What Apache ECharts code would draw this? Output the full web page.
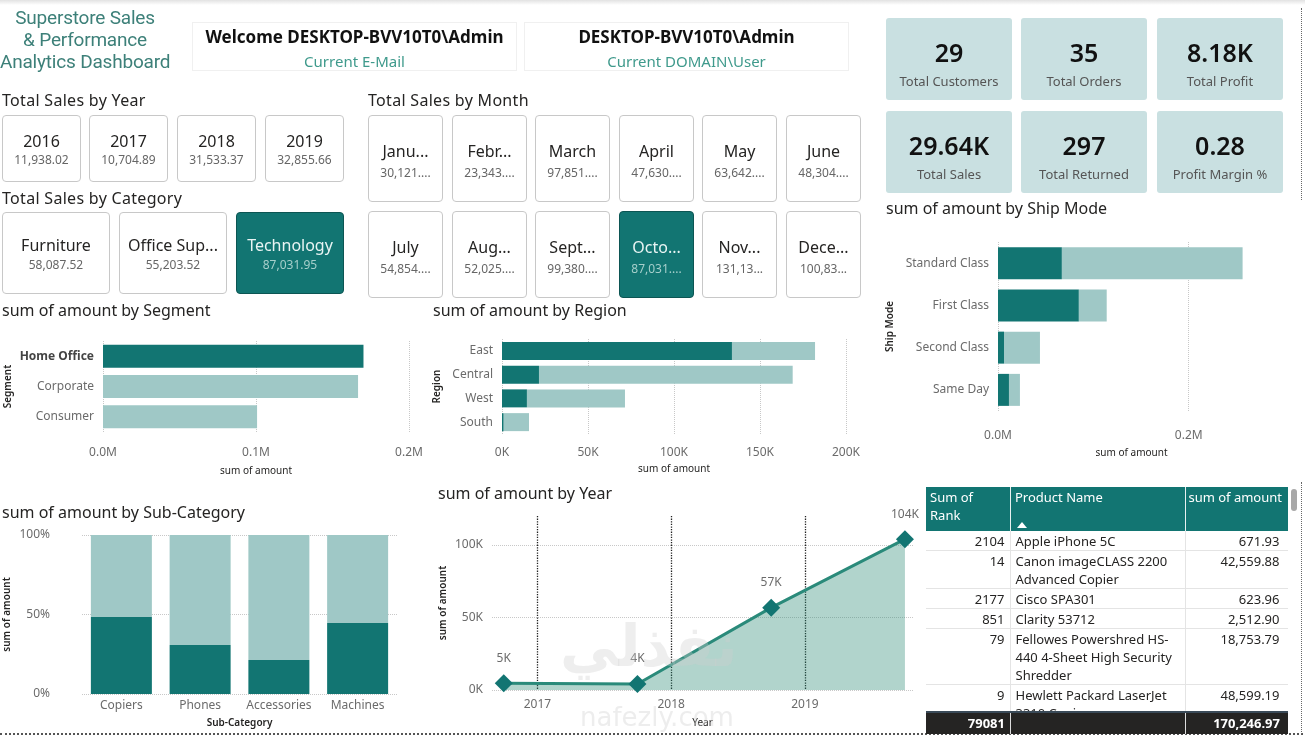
<!DOCTYPE html>
<html>
<head>
<meta charset="utf-8">
<script src="https://cdn.jsdelivr.net/npm/echarts@6/dist/echarts.min.js"></script>
<style>
  body { margin: 0; background: #fff; font-family: "Noto Sans", sans-serif; }
  #page { position: relative; width: 1305px; height: 737px; overflow: hidden; background: #fff; }
  #main { position: absolute; left: 0; top: 0; width: 1305px; height: 737px; }
  .card { position: absolute; box-sizing: border-box; border: 1px solid #c8c8c8; border-radius: 4px; background: #fff; }
  .card span, .kpi span { position: absolute; left: 0; right: 0; text-align: center; white-space: nowrap; }
  .kpi { position: absolute; background: #c9e0e1; border-radius: 3px; }
  #tbl { position: absolute; left: 926px; top: 487px; width: 362px; font-size: 13px; }
  #tbl table { border-collapse: collapse; table-layout: fixed; width: 362px; }
  #tbl td { line-height: 18px; padding: 1px 5px 0 5px; vertical-align: top; color: #252423; border-bottom: 1px solid #e4e4e4; border-right: 1px solid #e4e4e4; }
</style>
</head>
<body>
<div id="page">
  <div id="main"></div>
</div>
<script>
// slicer cards
var years = ['2016', '2017', '2018', '2019'];
var yearSales = ['11,938.02', '10,704.89', '31,533.37', '32,855.66'];
var categories = ['Furniture', 'Office Sup...', 'Technology'];
var categorySales = ['58,087.52', '55,203.52', '87,031.95'];
var months = ['Janu...', 'Febr...', 'March', 'April', 'May', 'June', 'July', 'Aug...', 'Sept...', 'Octo...', 'Nov...', 'Dece...'];
var monthSales = ['30,121....', '23,343....', '97,851....', '47,630....', '63,642....', '48,304....', '54,854....', '52,025....', '99,380....', '87,031....', '131,13...', '100,83...'];
var selectedCategory = 'Technology';
var selectedMonth = 'Octo...';

// kpi cards
var kpiValues = ['29', '35', '8.18K', '29.64K', '297', '0.28'];
var kpiLabels = ['Total Customers', 'Total Orders', 'Total Profit', 'Total Sales', 'Total Returned', 'Profit Margin %'];

// bar charts: highlighted part (dark) and total
var segments = ['Home Office', 'Corporate', 'Consumer'];
var segmentHighlighted = [170247, 0, 0];
var segmentTotal = [170247, 166700, 100700];

var regions = ['East', 'Central', 'West', 'South'];
var regionHighlighted = [133700, 21500, 14500, 1000];
var regionTotal = [182000, 169000, 71500, 15700];

var shipModes = ['Standard Class', 'First Class', 'Second Class', 'Same Day'];
var shipHighlighted = [67000, 84800, 6300, 11500];
var shipTotal = [256500, 114000, 44000, 23000];

var subCategories = ['Copiers', 'Phones', 'Accessories', 'Machines'];
var subCatHighlightedPct = [48.4, 30.8, 21.4, 44.7];

// line chart
var yearDates = ['2016-10-01', '2017-10-01', '2018-10-01', '2019-10-01'];
var yearAmounts = [4700, 4100, 56800, 104000];

// table
var tableRanks = [2104, 14, 2177, 851, 79, 9];
var tableProducts = ['Apple iPhone 5C', 'Canon imageCLASS 2200 Advanced Copier', 'Cisco SPA301', 'Clarity 53712',
  'Fellowes Powershred HS-440 4-Sheet High Security Shredder', 'Hewlett Packard LaserJet 3310 Copier'];
var tableAmounts = ['671.93', '42,559.88', '623.96', '2,512.90', '18,753.79', '48,599.19'];
var tableTotals = ['79081', '170,246.97'];

var dark = '#127572';
var light = '#9fc8c6';
var page = document.getElementById('page');

function addDiv(html, css, cls) {
  var d = document.createElement('div');
  if (cls) d.className = cls;
  d.style.cssText = css;
  d.innerHTML = html;
  page.appendChild(d);
  return d;
}

// top shadow + dotted frame lines
addDiv('', 'position:absolute;left:0;top:0;width:1305px;height:5px;background:linear-gradient(#e2e2e2,#fff);');
addDiv('', 'position:absolute;left:0;top:733px;width:1303px;height:0;border-top:2px dotted #555;');
addDiv('', 'position:absolute;left:1301px;top:8px;width:0;height:192px;border-left:1px dotted #666;');
addDiv('', 'position:absolute;left:1301px;top:482px;width:0;height:252px;border-left:1px dotted #666;');

// dashboard title
addDiv('Superstore Sales<br>&amp; Performance<br>Analytics Dashboard',
  'position:absolute;left:0;top:7px;width:170px;text-align:center;white-space:nowrap;font-family:Roboto,sans-serif;font-size:19px;letter-spacing:-0.2px;line-height:22px;color:#3d8079;');

// user boxes
function userBox(x, main, sub) {
  addDiv('<div style="position:absolute;left:0;right:0;top:2px;font-weight:700;font-size:17px;color:#111;">' + main + '</div>' +
    '<div style="position:absolute;left:0;right:0;top:28px;font-size:15px;color:#3f9a8c;">' + sub + '</div>',
    'position:absolute;left:' + x + 'px;top:22px;width:325px;height:49px;box-sizing:border-box;border:1px solid #f0f0f0;text-align:center;white-space:nowrap;');
}
userBox(192, 'Welcome DESKTOP-BVV10T0\\Admin', 'Current E-Mail');
userBox(524, 'DESKTOP-BVV10T0\\Admin', 'Current DOMAIN\\User');

// kpi cards
var kpiX = [886, 1021, 1157], kpiY = [18, 111];
kpiValues.forEach(function (v, i) {
  var x = kpiX[i % 3], y = kpiY[Math.floor(i / 3)];
  addDiv('<span style="top:17px;font-size:25px;font-weight:600;color:#111;line-height:34px;">' + v + '</span>' +
    '<span style="top:54px;font-size:13px;color:#555;line-height:18px;">' + kpiLabels[i] + '</span>',
    'left:' + x + 'px;top:' + y + 'px;width:126px;height:82px;', 'kpi');
});

// section headings
addDiv('Total Sales by Year', 'position:absolute;left:2px;top:89px;font-size:16px;color:#252423;letter-spacing:0.3px;');
addDiv('Total Sales by Category', 'position:absolute;left:2px;top:187px;font-size:16px;color:#252423;letter-spacing:0.3px;');
addDiv('Total Sales by Month', 'position:absolute;left:368px;top:89px;font-size:16px;color:#252423;letter-spacing:0.3px;');

function slicerCard(x, y, w, h, label, value, c1, c2, selected) {
  addDiv('<span style="top:' + (c1 - 11) + 'px;line-height:22px;font-size:16px;color:' + (selected ? '#e8f4f3' : '#252423') + ';">' + label + '</span>' +
    '<span style="top:' + (c2 - 8) + 'px;line-height:16px;font-size:12px;color:' + (selected ? '#a6cfcb' : '#666') + ';">' + value + '</span>',
    'left:' + x + 'px;top:' + y + 'px;width:' + w + 'px;height:' + h + 'px;' +
    (selected ? 'background:' + dark + ';border-color:#0c5553;' : ''), 'card');
}
var yearX = [2, 89, 177, 265];
years.forEach(function (y, i) { slicerCard(yearX[i], 115, 79, 67, y, yearSales[i], 25, 44, false); });
var catX = [2, 119, 236];
categories.forEach(function (c, i) { slicerCard(catX[i], 212, 108, 82, c, categorySales[i], 32, 52, c === selectedCategory); });
var monthX = [368, 452, 535, 619, 702, 786], monthY = [115, 211];
months.forEach(function (m, i) {
  slicerCard(monthX[i % 6], monthY[Math.floor(i / 6)], 75, 87, m, monthSales[i], 35, 57, m === selectedMonth);
});

// table
(function () {
  var head = '<div style="position:relative;height:44px;background:' + dark + ';color:#fff;font-size:13px;line-height:18px;">' +
    '<div style="position:absolute;left:4px;top:1px;width:60px;">Sum of Rank</div>' +
    '<div style="position:absolute;left:84px;top:0;width:0;height:44px;border-left:1px solid #e8f0f0;"></div>' +
    '<div style="position:absolute;left:89px;top:1px;">Product Name</div>' +
    '<div style="position:absolute;left:91px;top:35px;width:0;height:0;border-left:5px solid transparent;border-right:5px solid transparent;border-bottom:6px solid #fff;"></div>' +
    '<div style="position:absolute;left:259px;top:0;width:0;height:44px;border-left:1px solid #e8f0f0;"></div>' +
    '<div style="position:absolute;right:6px;top:1px;">sum of amount</div></div>';
  var rows = '<div style="height:180px;overflow:hidden;"><table><colgroup><col style="width:84px"><col style="width:175px"><col style="width:103px"></colgroup>';
  tableRanks.forEach(function (r, i) {
    rows += '<tr><td style="text-align:right;">' + r + '</td><td>' + tableProducts[i] + '</td><td style="text-align:right;padding-right:8px;">' + tableAmounts[i] + '</td></tr>';
  });
  rows += '</table></div>';
  var foot = '<div style="position:relative;height:21px;background:#252423;border-top:2px solid #3a4a58;color:#fff;font-weight:700;font-size:13px;line-height:20px;">' +
    '<div style="position:absolute;left:0;width:79px;text-align:right;">' + tableTotals[0] + '</div>' +
    '<div style="position:absolute;left:84px;top:0;height:21px;border-left:1px solid #ddd;"></div>' +
    '<div style="position:absolute;left:259px;top:0;height:21px;border-left:1px solid #ddd;"></div>' +
    '<div style="position:absolute;right:8px;">' + tableTotals[1] + '</div></div>';
  var t = addDiv(head + rows + foot, '');
  t.id = 'tbl';
  addDiv('', 'position:absolute;left:1291px;top:489px;width:6px;height:22px;border-radius:3px;background:#a8a8a8;');
})();

// watermark
addDiv('نفذلي', 'position:absolute;left:560px;top:612px;font-family:"DejaVu Sans",sans-serif;font-weight:700;font-size:58px;color:rgba(205,205,205,0.35);');
addDiv('nafezly.com', 'position:absolute;left:580px;top:702px;font-family:"DejaVu Sans",sans-serif;font-size:26px;color:rgba(210,210,210,0.4);');

// charts
var myChart = echarts.init(document.getElementById('main'));
var labelStyle = { color: '#6b6b6b', fontSize: 12, fontFamily: 'Noto Sans' };
var nameStyle = { color: '#252423', fontSize: 10, fontFamily: 'Noto Sans' };
var dotted = { color: '#c8c8c8', type: 'dotted', width: 1 };
var titleStyle = { fontSize: 16, fontWeight: 'normal', color: '#252423', fontFamily: 'Noto Sans' };

function mFmt(v) { return (v / 1e6).toFixed(1) + 'M'; }
function kFmt(v) { return (v / 1000) + 'K'; }
function rest(total, hi) { return total.map(function (t, i) { return +(t - hi[i]).toFixed(1); }); }

function valueX(idx, max, interval, fmt, margin, nameGap, hideMax) {
  return {
    type: 'value', gridIndex: idx, min: 0, max: max, interval: interval,
    name: 'sum of amount', nameLocation: 'middle', nameGap: nameGap, nameTextStyle: nameStyle,
    axisLine: { show: false }, axisTick: { show: false },
    axisLabel: Object.assign({ formatter: fmt, margin: margin, showMaxLabel: !hideMax }, labelStyle),
    splitLine: { show: true, lineStyle: dotted, showMaxLine: !hideMax }
  };
}
function catY(idx, data, name, nameGap, fmt) {
  return {
    type: 'category', gridIndex: idx, data: data, inverse: true,
    name: name, nameLocation: 'middle', nameGap: nameGap, nameTextStyle: Object.assign({ fontWeight: 600 }, nameStyle),
    axisLine: { show: false }, axisTick: { show: false },
    axisLabel: Object.assign({ margin: 9, interval: 0, formatter: fmt, rich: { b: { fontWeight: 700, color: '#444', fontSize: 12 } } }, labelStyle)
  };
}

var option = {
  animation: false,
  title: [
    { text: 'sum of amount by Segment', left: 2, top: 303, padding: 0, textStyle: titleStyle },
    { text: 'sum of amount by Region', left: 433, top: 303, padding: 0, textStyle: titleStyle },
    { text: 'sum of amount by Ship Mode', left: 886, top: 201, padding: 0, textStyle: titleStyle },
    { text: 'sum of amount by Sub-Category', left: 2, top: 505, padding: 0, textStyle: titleStyle },
    { text: 'sum of amount by Year', left: 438, top: 486, padding: 0, textStyle: titleStyle }
  ],
  grid: [
    { left: 103, top: 341, width: 306, height: 91, outerBoundsMode: 'none' },
    { left: 502, top: 339, width: 344, height: 95, outerBoundsMode: 'none' },
    { left: 998, top: 242, width: 267, height: 169, outerBoundsMode: 'none' },
    { left: 82, top: 535, width: 315, height: 159, outerBoundsMode: 'none' },
    { left: 492, top: 516, width: 421, height: 174, outerBoundsMode: 'none' }
  ],
  xAxis: [
    valueX(0, 200000, 100000, mFmt, 15, 34, false),
    valueX(1, 200000, 50000, kFmt, 13, 30, false),
    valueX(2, 280000, 200000, mFmt, 19, 37, true),
    {
      type: 'category', gridIndex: 3, data: subCategories,
      name: 'Sub-Category', nameLocation: 'middle', nameGap: 24, nameTextStyle: Object.assign({ fontWeight: 600 }, nameStyle),
      axisLine: { show: false }, axisTick: { show: false },
      axisLabel: Object.assign({ margin: 6, interval: 0 }, labelStyle)
    },
    {
      type: 'time', gridIndex: 4, min: '2016-08-30', max: '2019-10-23', splitNumber: 3,
      name: 'Year', nameLocation: 'middle', nameGap: 28, nameTextStyle: nameStyle,
      axisLine: { show: false }, axisTick: { show: false },
      axisLabel: Object.assign({
        margin: 9, showMinLabel: false, showMaxLabel: false,
        formatter: function (v) {
          var d = new Date(v);
          return (d.getMonth() === 0 && d.getDate() === 1) ? String(d.getFullYear()) : '';
        }
      }, labelStyle),
      splitLine: { show: true, showMinLine: false, showMaxLine: false, lineStyle: { color: '#222', type: 'dotted', width: 1.3 } }
    }
  ],
  yAxis: [
    catY(0, segments, 'Segment', 90, function (v, i) { return segmentHighlighted[i] > 0 ? '{b|' + v + '}' : v; }),
    catY(1, regions, 'Region', 60),
    catY(2, shipModes, 'Ship Mode', 103),
    {
      type: 'value', gridIndex: 3, min: 0, max: 100, interval: 50,
      name: 'sum of amount', nameLocation: 'middle', nameGap: 70, nameTextStyle: Object.assign({ fontWeight: 600 }, nameStyle),
      axisLine: { show: false }, axisTick: { show: false },
      axisLabel: Object.assign({ margin: 32, formatter: '{value}%' }, labelStyle),
      splitLine: { show: true, lineStyle: dotted }
    },
    {
      type: 'value', gridIndex: 4, min: 0, max: 120000, interval: 50000,
      name: 'sum of amount', nameLocation: 'middle', nameGap: 44, nameTextStyle: Object.assign({ fontWeight: 600 }, nameStyle),
      axisLine: { show: false }, axisTick: { show: false },
      axisLabel: Object.assign({ margin: 9, formatter: kFmt, showMaxLabel: false }, labelStyle),
      splitLine: { show: true, lineStyle: dotted, showMaxLine: false }
    }
  ],
  series: [
    { type: 'bar', xAxisIndex: 0, yAxisIndex: 0, stack: 'seg', barWidth: 23, data: segmentHighlighted, itemStyle: { color: dark } },
    { type: 'bar', xAxisIndex: 0, yAxisIndex: 0, stack: 'seg', barWidth: 23, data: rest(segmentTotal, segmentHighlighted), itemStyle: { color: light } },
    { type: 'bar', xAxisIndex: 1, yAxisIndex: 1, stack: 'reg', barWidth: 18, data: regionHighlighted, itemStyle: { color: dark } },
    { type: 'bar', xAxisIndex: 1, yAxisIndex: 1, stack: 'reg', barWidth: 18, data: rest(regionTotal, regionHighlighted), itemStyle: { color: light } },
    { type: 'bar', xAxisIndex: 2, yAxisIndex: 2, stack: 'ship', barWidth: 32, data: shipHighlighted, itemStyle: { color: dark } },
    { type: 'bar', xAxisIndex: 2, yAxisIndex: 2, stack: 'ship', barWidth: 32, data: rest(shipTotal, shipHighlighted), itemStyle: { color: light } },
    { type: 'bar', xAxisIndex: 3, yAxisIndex: 3, stack: 'sub', barWidth: 61, data: subCatHighlightedPct, itemStyle: { color: dark } },
    { type: 'bar', xAxisIndex: 3, yAxisIndex: 3, stack: 'sub', barWidth: 61, data: subCatHighlightedPct.map(function (p) { return +(100 - p).toFixed(1); }), itemStyle: { color: light } },
    {
      type: 'line', xAxisIndex: 4, yAxisIndex: 4,
      data: yearDates.map(function (d, i) { return [d, yearAmounts[i]]; }),
      symbol: 'diamond', symbolSize: 18,
      lineStyle: { color: '#2a8a7a', width: 3 },
      itemStyle: { color: dark },
      areaStyle: { color: 'rgba(40,135,115,0.36)', opacity: 1 },
      label: {
        show: true, position: 'top', distance: 10, color: '#6b6b6b', fontSize: 12, fontFamily: 'Noto Sans',
        formatter: function (p) { return Math.round(p.value[1] / 1000) + 'K'; }
      }
    }
  ]
};

myChart.setOption(option);
</script>
</body>
</html>
